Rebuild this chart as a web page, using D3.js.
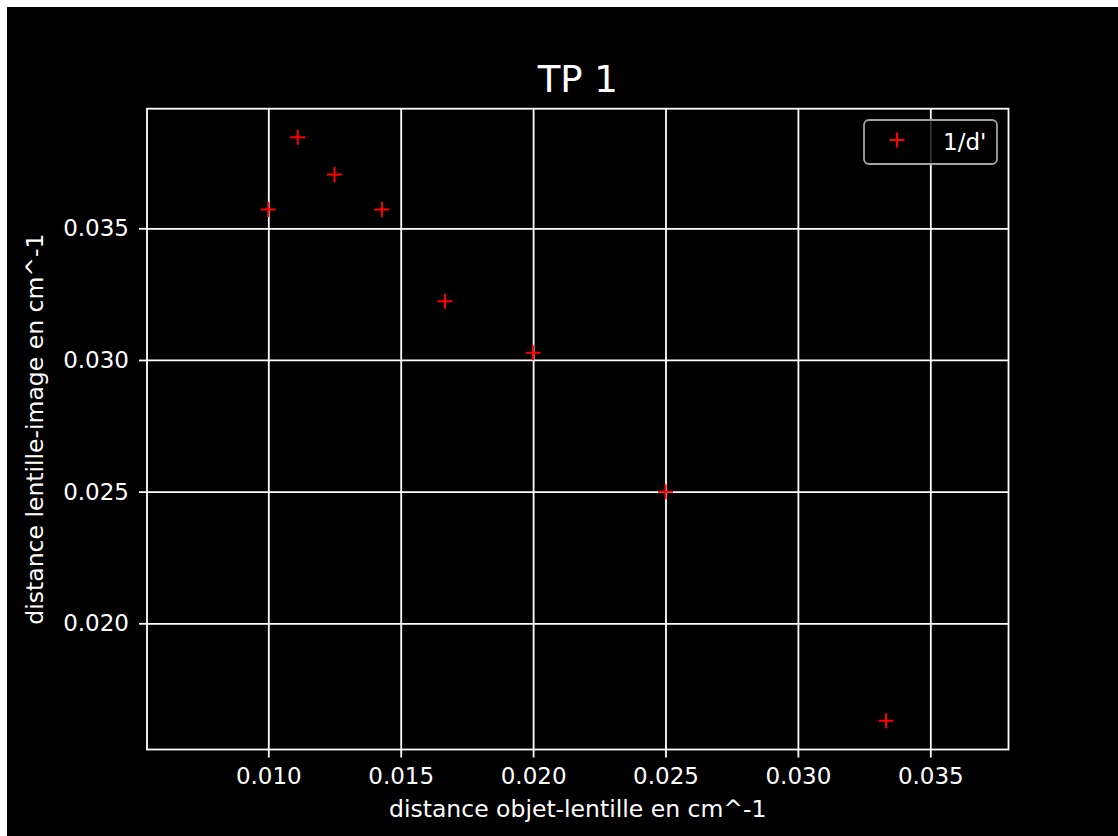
<!DOCTYPE html>
<html>
<head>
<meta charset="utf-8">
<script src="https://cdn.jsdelivr.net/npm/d3@7"></script>
<style>
  body { margin: 0; background: #fff; }
  svg { display: block; font-family: "DejaVu Sans", sans-serif; }
</style>
</head>
<body>
<div id="chart"></div>
<script>
// 1/d (objet-lentille) et 1/d' (lentille-image), en cm^-1
var invD = [0.01, 0.01111, 0.0125, 0.01429, 0.01667, 0.02, 0.025, 0.03333];
var invDprime = [0.03571, 0.03846, 0.03704, 0.03571, 0.03223, 0.03027, 0.025, 0.0163];
var xTicks = [0.010, 0.015, 0.020, 0.025, 0.030, 0.035];
var yTicks = [0.020, 0.025, 0.030, 0.035];

var width = 1118;
var height = 836;
var plotL = 147, plotR = 1008.5, plotT = 108.7, plotB = 749.5;

var x = d3.scaleLinear()
  .domain([0.005419, 0.037953])
  .range([plotL, plotR]);

var y = d3.scaleLinear()
  .domain([0.015207, 0.039542])
  .range([plotB, plotT]);

var svg = d3.select('#chart')
  .append('svg')
  .attr('width', width)
  .attr('height', height);

svg.append('rect')
  .attr('x', 7).attr('y', 7)
  .attr('width', width - 7).attr('height', height - 7)
  .attr('fill', '#000');

// grid
svg.append('g')
  .attr('transform', 'translate(0,' + plotB + ')')
  .call(d3.axisBottom(x).tickValues(xTicks).tickSize(-(plotB - plotT)).tickFormat(''))
  .call(g => g.select('.domain').remove())
  .selectAll('line').attr('stroke', '#fff').attr('stroke-width', 1.8);

svg.append('g')
  .attr('transform', 'translate(' + plotL + ',0)')
  .call(d3.axisLeft(y).tickValues(yTicks).tickSize(-(plotR - plotL)).tickFormat(''))
  .call(g => g.select('.domain').remove())
  .selectAll('line').attr('stroke', '#fff').attr('stroke-width', 1.8);

// axes
var xAxis = svg.append('g')
  .attr('transform', 'translate(0,' + plotB + ')')
  .call(d3.axisBottom(x).tickValues(xTicks).tickSize(8).tickSizeOuter(0).tickPadding(10).tickFormat(d3.format('.3f')));

var yAxis = svg.append('g')
  .attr('transform', 'translate(' + plotL + ',0)')
  .call(d3.axisLeft(y).tickValues(yTicks).tickSize(8).tickSizeOuter(0).tickPadding(10).tickFormat(d3.format('.3f')));

[xAxis, yAxis].forEach(function(a) {
  a.select('.domain').remove();
  a.selectAll('line').attr('stroke', '#fff').attr('stroke-width', 1.8);
  a.selectAll('text').attr('fill', '#fff').attr('font-size', 23)
    .attr('font-family', '"DejaVu Sans", sans-serif');
});
yAxis.selectAll('text').attr('dy', '0.33em');

// spines
svg.append('rect')
  .attr('x', plotL).attr('y', plotT)
  .attr('width', plotR - plotL).attr('height', plotB - plotT)
  .attr('fill', 'none')
  .attr('stroke', '#fff')
  .attr('stroke-width', 1.8);

// points
svg.selectAll('path.pt')
  .data(invD)
  .enter()
  .append('path')
  .attr('class', 'pt')
  .attr('d', 'M-7.5,0H7.5M0,-7.5V7.5')
  .attr('transform', (d, i) => 'translate(' + x(d) + ',' + y(invDprime[i]) + ')')
  .attr('stroke', '#f00')
  .attr('stroke-width', 2)
  .attr('fill', 'none');

// titles
svg.append('text')
  .attr('x', (plotL + plotR) / 2)
  .attr('y', 92)
  .attr('text-anchor', 'middle')
  .attr('fill', '#fff')
  .attr('font-size', 37)
  .text('TP 1');

svg.append('text')
  .attr('x', (plotL + plotR) / 2)
  .attr('y', 817)
  .attr('text-anchor', 'middle')
  .attr('fill', '#fff')
  .attr('font-size', 23.5)
  .text('distance objet-lentille en cm^-1');

svg.append('text')
  .attr('transform', 'translate(43,' + (plotT + plotB) / 2 + ') rotate(-90)')
  .attr('text-anchor', 'middle')
  .attr('fill', '#fff')
  .attr('font-size', 23.5)
  .text('distance lentille-image en cm^-1');

// legend
var legend = svg.append('g');
legend.append('rect')
  .attr('x', 864).attr('y', 120)
  .attr('width', 133).attr('height', 44)
  .attr('rx', 5)
  .attr('fill', 'rgba(0,0,0,0.8)')
  .attr('stroke', '#a3a3a3')
  .attr('stroke-width', 1.8);
legend.append('path')
  .attr('d', 'M-7.5,0H7.5M0,-7.5V7.5')
  .attr('transform', 'translate(897,140)')
  .attr('stroke', '#f00')
  .attr('stroke-width', 2);
legend.append('text')
  .attr('x', 943).attr('y', 150)
  .attr('fill', '#fff')
  .attr('font-size', 23)
  .text("1/d'");
</script>
</body>
</html>
